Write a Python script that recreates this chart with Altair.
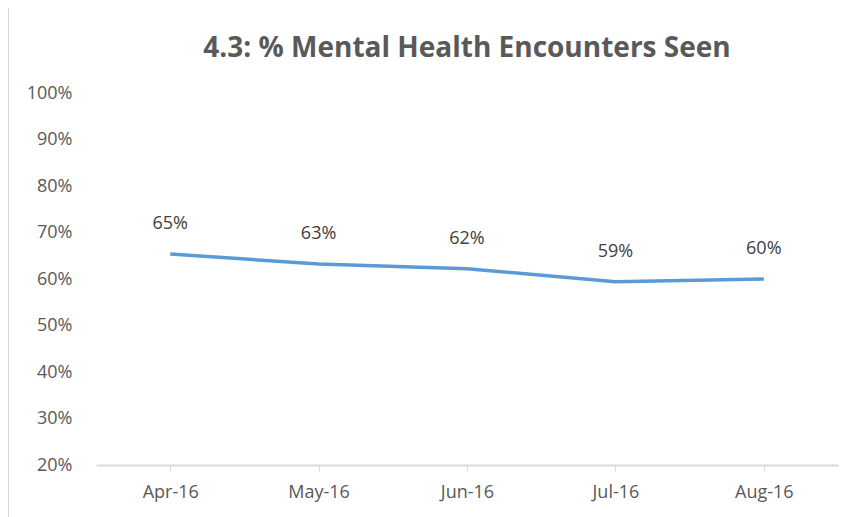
import altair as alt
import pandas as pd

months = ["Apr-16", "May-16", "Jun-16", "Jul-16", "Aug-16"]
values = [0.654, 0.632, 0.622, 0.594, 0.600]
labels = ["65%", "63%", "62%", "59%", "60%"]

df = pd.DataFrame({"month": months, "value": values, "label": labels})

W, H = 742, 372
FONT = "Open Sans"

x = alt.X("month:N", sort=months, title=None,
          scale=alt.Scale(paddingInner=0, paddingOuter=0.5),
          axis=alt.Axis(labelAngle=0, domainColor="#d9d9d9", tickColor="#d9d9d9",
                        domainWidth=2, tickSize=6, labelPadding=12, labelFontSize=18,
                        labelColor="#595959", labelFont=FONT, bandPosition=0, grid=False))
y = alt.Y("value:Q", title=None,
          scale=alt.Scale(domain=[0.2, 1.0], nice=False, zero=False),
          axis=alt.Axis(format=".0%", values=[0.2, 0.3, 0.4, 0.5, 0.6, 0.7, 0.8, 0.9, 1.0],
                        domain=False, ticks=False, grid=False, labelPadding=24,
                        labelFontSize=18, labelColor="#595959", labelFont=FONT))

line = alt.Chart(df).mark_line(color="#5B9BD5", strokeWidth=3.5).encode(x=x, y=y)
text = alt.Chart(df).mark_text(dy=-30, fontSize=18, color="#404040", font=FONT).encode(
    x=alt.X("month:N", sort=months), y="value:Q", text="label:N")
border = alt.Chart(df).mark_rect(fill=None, stroke="#d9d9d9", strokeWidth=1.5).encode(
    x=alt.value(-88), x2=alt.value(W + 11), y=alt.value(-86), y2=alt.value(H + 60))

chart = alt.layer(border, line, text).properties(
    width=W, height=H,
    title=alt.TitleParams("4.3: % Mental Health Encounters Seen", fontSize=28,
                          font=FONT, fontWeight="bold", color="#595959", offset=-57,
                          anchor="middle"),
    autosize=alt.AutoSizeParams(type="none"),
    padding={"left": 88, "top": 85, "right": 9, "bottom": 52},
).configure_view(stroke=None)

chart.save("out.html", embed_options={"renderer": "svg", "actions": False})
